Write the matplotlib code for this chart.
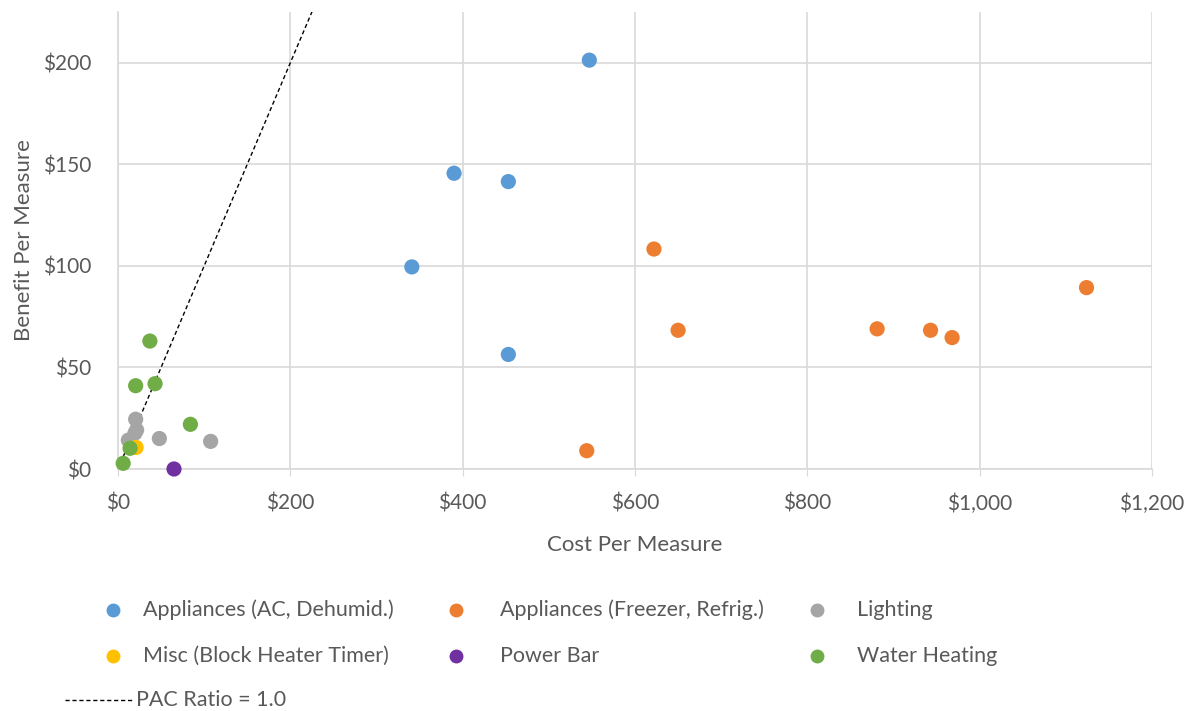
import matplotlib
matplotlib.use("Agg")
import matplotlib.pyplot as plt
from matplotlib.lines import Line2D
from matplotlib.ticker import FuncFormatter

plt.rcParams['font.family'] = ['Lato', 'DejaVu Sans']

# Cost / benefit per measure, grouped by measure type
categories = ["Appliances (AC, Dehumid.)", "Appliances (Freezer, Refrig.)", "Lighting",
              "Misc (Block Heater Timer)", "Power Bar", "Water Heating"]
colors = ["#5b9bd5", "#ed7d31", "#a5a5a5", "#ffc000", "#7030a0", "#70ad47"]

ac_cost = [341, 390, 453, 547, 453]
ac_benefit = [99.5, 145.6, 141.5, 201.3, 56.4]

fridge_cost = [544, 622, 650, 881, 943, 968, 1124]
fridge_benefit = [9, 108.3, 68.3, 69, 68.3, 64.7, 89.3]

light_cost = [20.5, 21.6, 19.7, 12, 48, 107.5]
light_benefit = [24.5, 19.2, 17.7, 14.2, 15, 13.6]

misc_cost = [21]
misc_benefit = [10.6]

powerbar_cost = [65]
powerbar_benefit = [0]

water_cost = [37, 20.5, 43, 84, 14, 6]
water_benefit = [63, 41, 42, 22, 10.2, 2.8]

pac_line = [0, 240]

series = [(ac_cost, ac_benefit), (fridge_cost, fridge_benefit), (light_cost, light_benefit),
          (misc_cost, misc_benefit), (powerbar_cost, powerbar_benefit), (water_cost, water_benefit)]

txt = "#595959"
grid = "#d9d9d9"
W, H = 1190, 711

fig = plt.figure(figsize=(W / 100, H / 100), dpi=100)
ax = fig.add_axes([118 / W, 242 / H, 1034 / W, 457 / H])

ax.plot(pac_line, pac_line, color="black", linestyle=(0, (3, 2)), linewidth=1, zorder=2)
for (xs, ys), c in zip(series, colors):
    ax.scatter(xs, ys, s=120, color=c, edgecolors="none", zorder=3, clip_on=False)

ax.set_xlim(0, 1200)
ax.set_ylim(0, 225)
ax.set_xticks(range(0, 1201, 200))
ax.set_yticks(range(0, 201, 50))
ax.xaxis.set_major_formatter(FuncFormatter(lambda v, p: f"${v:,.0f}"))
ax.yaxis.set_major_formatter(FuncFormatter(lambda v, p: f"${v:,.0f}"))
ax.grid(True, color=grid, linewidth=1.2, zorder=0)
ax.set_axisbelow(True)
for s in ["top", "right"]:
    ax.spines[s].set_visible(False)
for s in ["left", "bottom"]:
    ax.spines[s].set_color(grid)
    ax.spines[s].set_linewidth(1.2)
ax.tick_params(axis="x", colors=txt, labelsize=15, length=5, color=grid, pad=13)
ax.tick_params(axis="y", colors=txt, labelsize=15, length=0, pad=19)

ax.set_xlabel("Cost Per Measure", color=txt, fontsize=16, labelpad=15)
ax.set_ylabel("Benefit Per Measure", color=txt, fontsize=16, labelpad=7)

# legend below the plot, laid out row by row
dot_x = [113, 456, 817]
text_x = [143, 500, 857]
rows_y = [610, 656]
for i, (name, c) in enumerate(zip(categories, colors)):
    col, row = i % 3, i // 3
    fy = 1 - rows_y[row] / H
    fig.add_artist(Line2D([dot_x[col] / W], [fy], marker="o", markersize=9, color=c,
                          linestyle="none", transform=fig.transFigure))
    fig.text(text_x[col] / W, fy, name, color=txt, fontsize=15.5, va="center", ha="left")

pac_y = 1 - 700 / H
fig.add_artist(Line2D([65 / W, 133 / W], [pac_y, pac_y], color="black", linestyle=(0, (3, 2)),
                      linewidth=1, transform=fig.transFigure))
fig.text(136 / W, pac_y, "PAC Ratio = 1.0", color=txt, fontsize=15.5, va="center", ha="left")

fig.savefig("out.png", dpi=100)
